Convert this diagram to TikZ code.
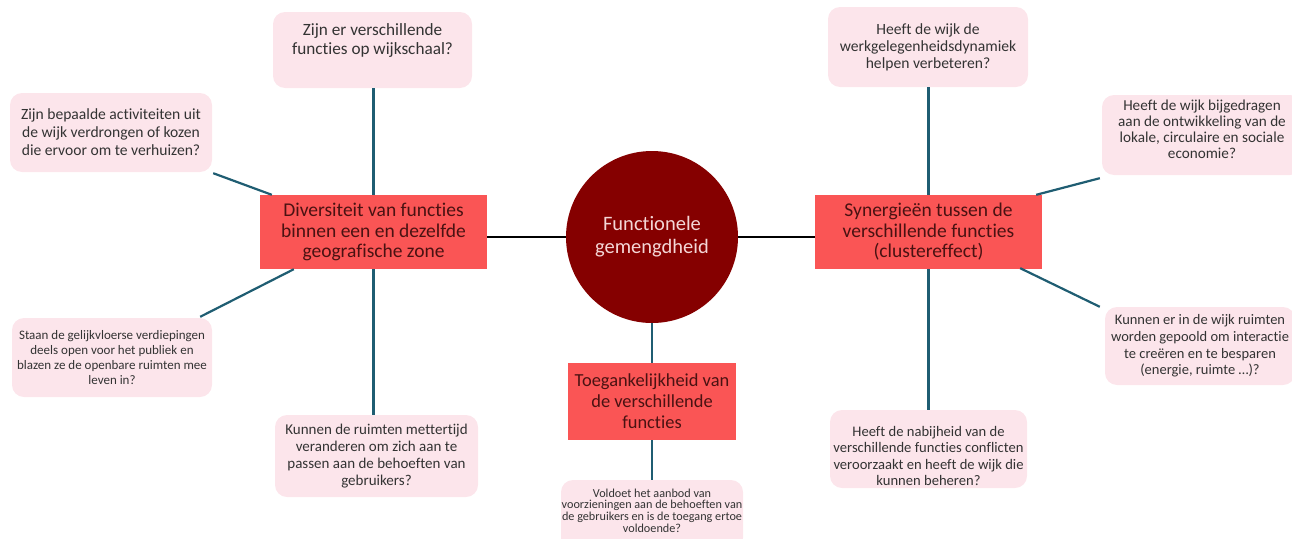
\documentclass[tikz,border=0pt]{standalone}
\usepackage{fontspec}
\setmainfont{Carlito}[Ligatures={NoCommon}]
\definecolor{hubred}{HTML}{850000}
\definecolor{hubtext}{HTML}{F4D6D6}
\definecolor{themered}{HTML}{FA5555}
\definecolor{themetext}{HTML}{4A1212}
\definecolor{qpink}{HTML}{FCE5EB}
\definecolor{qtext}{HTML}{333333}
\definecolor{link}{HTML}{1F5D72}
\tikzset{
  hub/.style={circle, fill=hubred, text=hubtext, minimum size=172pt, inner sep=0pt, align=center,
    font=\fontsize{20.5}{23}\selectfont},
  theme/.style={rectangle, fill=themered, text=themetext, inner sep=0pt, align=center,
    font=\fontsize{19.5}{20.5}\selectfont},
  qbox/.style={rectangle, rounded corners=12pt, fill=qpink, text=qtext, inner sep=0pt, align=center},
  qtxt/.style={text=qtext, inner sep=0pt, align=center},
  spoke/.style={line width=2pt, black},
  twig/.style={line width=2.2pt, link},
}
\begin{document}
\begin{tikzpicture}[x=1pt, y=-1pt]
\useasboundingbox (0,0) rectangle (1292,538);
\clip (0,0) rectangle (1292,538);

% central topic
\node[hub] (C) at (652,237) {Functionele\\gemengdheid};

% three themes
\node[theme, minimum width=227pt, minimum height=74pt] (L) at (373.5,232) {Diversiteit van functies\\binnen een en dezelfde\\geografische zone};
\node[theme, minimum width=227pt, minimum height=74pt] (R) at (928.5,232) {Synergieën tussen de\\verschillende functies\\(clustereffect)};
\node[theme, minimum width=168pt, minimum height=77pt, font=\fontsize{18.4}{21}\selectfont] (B) at (652,401.5) {Toegankelijkheid van\\de verschillende\\functies};

% questions around the left theme
\node[qbox, minimum width=199pt, minimum height=76pt] (Q1) at (372.5,50) {};
\node[qtxt, font=\fontsize{17.2}{19}\selectfont] (Q1t) at (372.5,41) {Zijn er verschillende\\functies op wijkschaal?};
\node[qbox, minimum width=202pt, minimum height=79pt, font=\fontsize{15.6}{18}\selectfont] (Q2) at (111,132.5)
  {Zijn bepaalde activiteiten uit\\de wijk verdrongen of kozen\\die ervoor om te verhuizen?};
\node[qbox, minimum width=200pt, minimum height=79pt, font=\fontsize{13}{15}\selectfont] (Q3) at (112,357.5)
  {Staan de gelijkvloerse verdiepingen\\deels open voor het publiek en\\blazen ze de openbare ruimten mee\\leven in?};
\node[qbox, minimum width=203pt, minimum height=82pt, font=\fontsize{15}{17}\selectfont] (Q4) at (376.5,456)
  {Kunnen de ruimten mettertijd\\veranderen om zich aan te\\passen aan de behoeften van\\gebruikers?};

% question below the bottom theme
\node[qbox, minimum width=182pt, minimum height=70pt] (Q5) at (652,515) {};
\node[qtxt, font=\fontsize{12.2}{11.8}\selectfont] (Q5t) at (652,510.5)
  {Voldoet het aanbod van\\voorzieningen aan de behoeften van\\de gebruikers en is de toegang ertoe\\voldoende?};

% questions around the right theme
\node[qbox, minimum width=200pt, minimum height=80pt, font=\fontsize{15.6}{17}\selectfont] (Q6) at (928,47)
  {Heeft de wijk de\\werkgelegenheidsdynamiek\\helpen verbeteren?};
\node[qbox, minimum width=200pt, minimum height=80pt] (Q7) at (1202,135) {};
\node[qtxt, font=\fontsize{15.2}{16}\selectfont] (Q7t) at (1202,129)
  {Heeft de wijk bijgedragen\\aan de ontwikkeling van de\\lokale, circulaire en sociale\\economie?};
\node[qbox, minimum width=190pt, minimum height=78pt, font=\fontsize{14.5}{16.7}\selectfont] (Q8) at (1200,346)
  {Kunnen er in de wijk ruimten\\worden gepoold om interactie\\te creëren en te besparen\\(energie, ruimte \dots)?};
\node[qbox, minimum width=197pt, minimum height=78pt] (Q9) at (928.5,449) {};
\node[qtxt, font=\fontsize{14.6}{16.5}\selectfont] (Q9t) at (928.5,456)
  {Heeft de nabijheid van de\\verschillende functies conflicten\\veroorzaakt en heeft de wijk die\\kunnen beheren?};

% hub to themes
\draw[spoke] (C.west |- 0,237) -- (L.east |- 0,237);
\draw[spoke] (C.east |- 0,237) -- (R.west |- 0,237);
\draw[twig] (C.south) -- (B.north);

% themes to questions
\draw[twig] (L.north) -- (L.north |- Q1.south);
\draw[twig] ([xshift=12pt]L.north west) -- ([xshift=1pt,yshift=-1pt]Q2.south east);
\draw[twig] ([xshift=34pt]L.south west) -- ([xshift=-12pt,yshift=1pt]Q3.north east);
\draw[twig] (L.south) -- (L.south |- Q4.north);
\draw[twig] (B.south) -- (Q5.north);
\draw[twig] (R.north) -- (R.north |- Q6.south);
\draw[twig] ([xshift=-6pt]R.north east) -- ([xshift=-2pt,yshift=-3pt]Q7.south west);
\draw[twig] ([xshift=-22pt,yshift=1pt]R.south east) -- ([xshift=-5pt]Q8.north west);
\draw[twig] (R.south) -- (R.south |- Q9.north);
\end{tikzpicture}
\end{document}
